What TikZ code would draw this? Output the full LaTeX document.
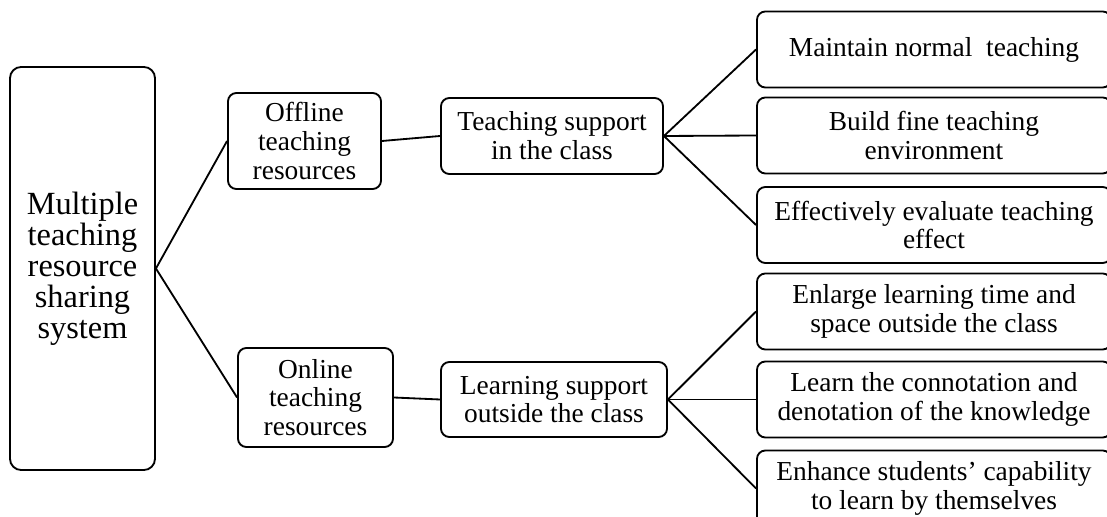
\documentclass[tikz,border=0pt]{standalone}
\usepackage{fontspec}
\setmainfont{Liberation Serif}
\usepackage{tikz}

\begin{document}
\begin{tikzpicture}[x=0.025cm, y=-0.025cm,
        box/.style={draw, rectangle, rounded corners=6pt, line width=1.3pt, align=center, inner sep=2pt,
            font=\fontsize{19.5}{20.5}\selectfont},
        big/.style={box, rounded corners=8pt, minimum width=3.625cm, minimum height=10.075cm,
            font=\fontsize{23}{22}\selectfont},
        leaf/.style={box, minimum width=8.85cm, minimum height=1.9cm},
        line/.style={line width=1.3pt},
        ]

      \useasboundingbox (0,0) rectangle (1107,517);
      \clip (0,0) rectangle (1107,517);

      \node[big] (ms) at (82.5, 268.5) {Multiple\\teaching\\resource\\sharing\\system};

      \node[box, minimum width=3.825cm, minimum height=2.4cm] (of) at (304.5, 141) {Offline\\teaching\\resources};
      \node[box, minimum width=3.875cm, minimum height=2.475cm] (on) at (315.5, 397.5) {Online\\teaching\\resources};

      \node[box, minimum width=5.55cm, minimum height=1.9cm] (ts) at (552, 136) {Teaching support\\in the class};
      \node[box, minimum width=5.65cm, minimum height=1.875cm] (ls) at (554, 399.5) {Learning support\\outside the class};

      \node[leaf] (mt) at (934, 49.5) {Maintain normal~ teaching};
      \node[leaf] (bf) at (934, 135.5) {Build fine teaching\\environment};
      \node[leaf] (ee) at (934, 225) {Effectively evaluate teaching\\effect};
      \node[leaf] (el) at (934, 311.5) {Enlarge learning time and\\space outside the class};
      \node[leaf] (lc) at (934, 399.5) {Learn the connotation and\\denotation of the knowledge};
      \node[leaf] (es) at (934, 488.5) {Enhance students’ capability\\to learn by themselves};

      \draw[line] (ms.east) -- (of.west);
      \draw[line] (ms.east) -- (on.west);

      \draw[line] (of.east) -- (ts.west);
      \draw[line] (on.east) -- (ls.west);

      \draw[line] (ts.east) -- (mt.west);
      \draw[line] (ts.east) -- (bf.west);
      \draw[line] (ts.east) -- (ee.west);

      \draw[line] (ls.east) -- (el.west);
      \draw[line] (ls.east) -- (lc.west);
      \draw[line] (ls.east) -- (es.west);
    \end{tikzpicture}
\end{document}
